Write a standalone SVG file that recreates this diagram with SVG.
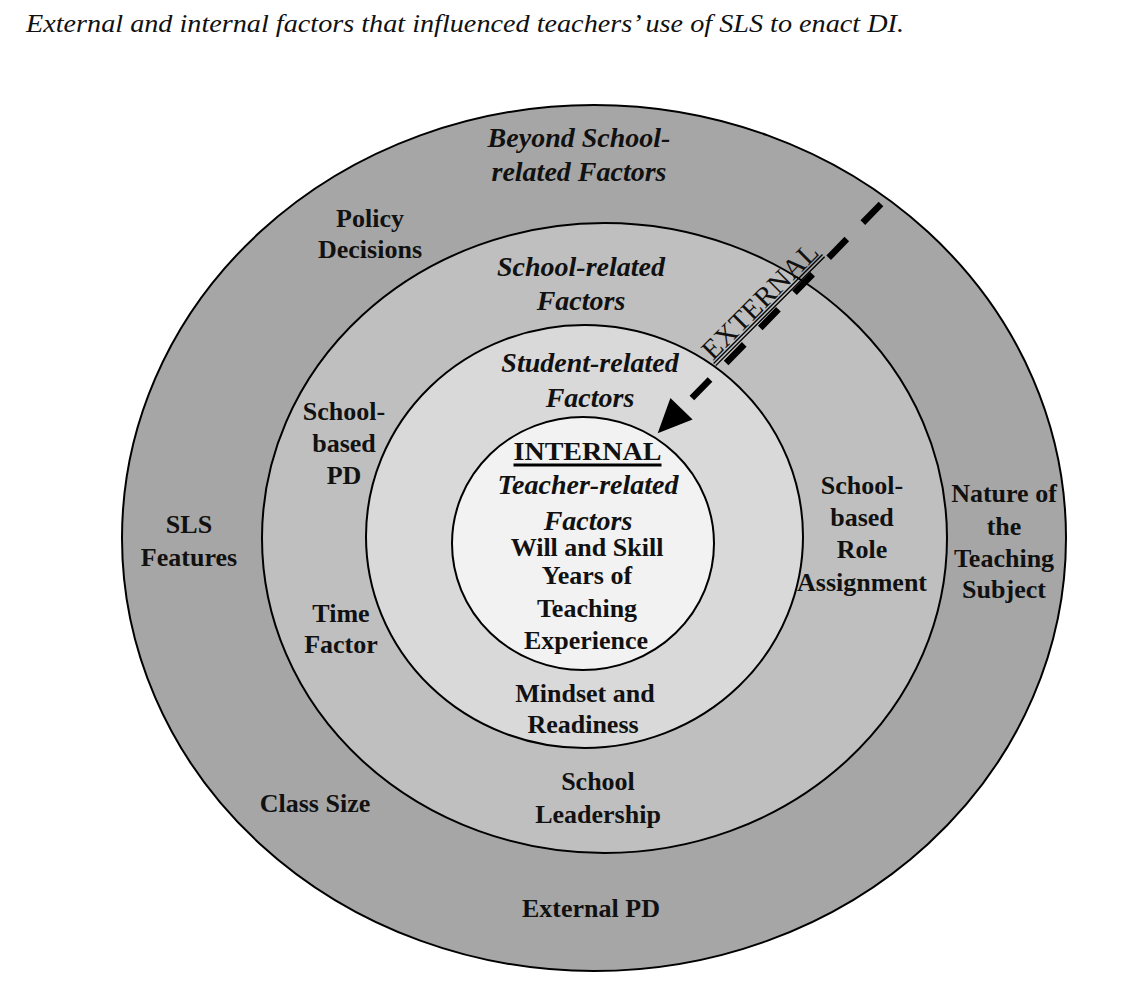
<svg xmlns="http://www.w3.org/2000/svg" width="1128" height="981" viewBox="0 0 1128 981">
<style>
.ring{stroke:#000;stroke-width:2}
.b{font-family:"Liberation Serif","Times New Roman",serif;font-weight:bold;font-size:26px;text-anchor:middle;fill:#111}
.bi{font-family:"Liberation Serif","Times New Roman",serif;font-weight:bold;font-style:italic;font-size:28px;text-anchor:middle;fill:#111}
.title{font-family:"Liberation Serif","Times New Roman",serif;font-style:italic;font-size:25px;fill:#111}
.ext{font-family:"Liberation Serif","Times New Roman",serif;font-size:28px;text-anchor:middle;fill:#111}
.ul{stroke:#000;stroke-width:1.4}
</style>
<rect width="1128" height="981" fill="#fff"/>
<text class="title" x="26" y="32" textLength="878" lengthAdjust="spacingAndGlyphs">External and internal factors that influenced teachers’ use of SLS to enact DI.</text>

<g id="beyond-school">
<ellipse class="ring" cx="594" cy="538" rx="472" ry="433" fill="#a6a6a6"/>
<text class="bi" x="579" y="147">Beyond School-</text>
<text class="bi" x="579" y="181">related Factors</text>
<text class="b" x="370" y="227">Policy</text>
<text class="b" x="370" y="258">Decisions</text>
<text class="b" x="189" y="533">SLS</text>
<text class="b" x="189" y="566">Features</text>
<text class="b" x="315" y="812">Class Size</text>
<text class="b" x="591" y="917">External PD</text>
<text class="b" x="1004" y="502">Nature of</text>
<text class="b" x="1004" y="535">the</text>
<text class="b" x="1004" y="567">Teaching</text>
<text class="b" x="1004" y="598">Subject</text>
</g>

<g id="school">
<ellipse class="ring" cx="604.5" cy="538" rx="342.5" ry="315" fill="#bfbfbf"/>
<text class="bi" x="581" y="276">School-related</text>
<text class="bi" x="581" y="310">Factors</text>
<text class="b" x="344" y="420">School-</text>
<text class="b" x="344" y="452">based</text>
<text class="b" x="344" y="484">PD</text>
<text class="b" x="341" y="622">Time</text>
<text class="b" x="341" y="653">Factor</text>
<text class="b" x="862" y="494">School-</text>
<text class="b" x="862" y="526">based</text>
<text class="b" x="862" y="558">Role</text>
<text class="b" x="862" y="591">Assignment</text>
<text class="b" x="598" y="790">School</text>
<text class="b" x="598" y="823">Leadership</text>
</g>

<g id="student">
<ellipse class="ring" cx="584.5" cy="536.5" rx="218.5" ry="211.5" fill="#d9d9d9"/>
<text class="bi" x="590" y="372">Student-related</text>
<text class="bi" x="590" y="407">Factors</text>
<text class="b" x="585" y="702">Mindset and</text>
<text class="b" x="583" y="733">Readiness</text>
</g>

<g id="teacher">
<ellipse class="ring" cx="583" cy="543.5" rx="131" ry="126.5" fill="#f2f2f2"/>
<text class="b" x="587.5" y="460" font-size="30" textLength="148" lengthAdjust="spacingAndGlyphs">INTERNAL</text>
<line x1="513.5" y1="465" x2="661.5" y2="465" stroke="#000" stroke-width="3"/>
<text class="bi" x="588" y="494">Teacher-related</text>
<text class="bi" x="588" y="530">Factors</text>
<text class="b" x="587" y="556">Will and Skill</text>
<text class="b" x="587" y="584">Years of</text>
<text class="b" x="587" y="617">Teaching</text>
<text class="b" x="586" y="649">Experience</text>
</g>

<g id="connectors">
<path d="M881,204 L691.9,398.1" fill="none" stroke="#000" stroke-width="6.5" stroke-dasharray="26 23"/>
<polygon points="657.7,433.2 692.6,419.6 670.4,398" fill="#000"/>
<g id="external-label" transform="translate(766.5,307.5) rotate(-45)">
<text class="ext" x="0" y="0" textLength="152" lengthAdjust="spacingAndGlyphs">EXTERNAL</text>
<line class="ul" x1="-77" y1="2.2" x2="77" y2="2.2"/>
<line class="ul" x1="-77" y1="5.2" x2="77" y2="5.2"/>
</g>
</g>
</svg>
